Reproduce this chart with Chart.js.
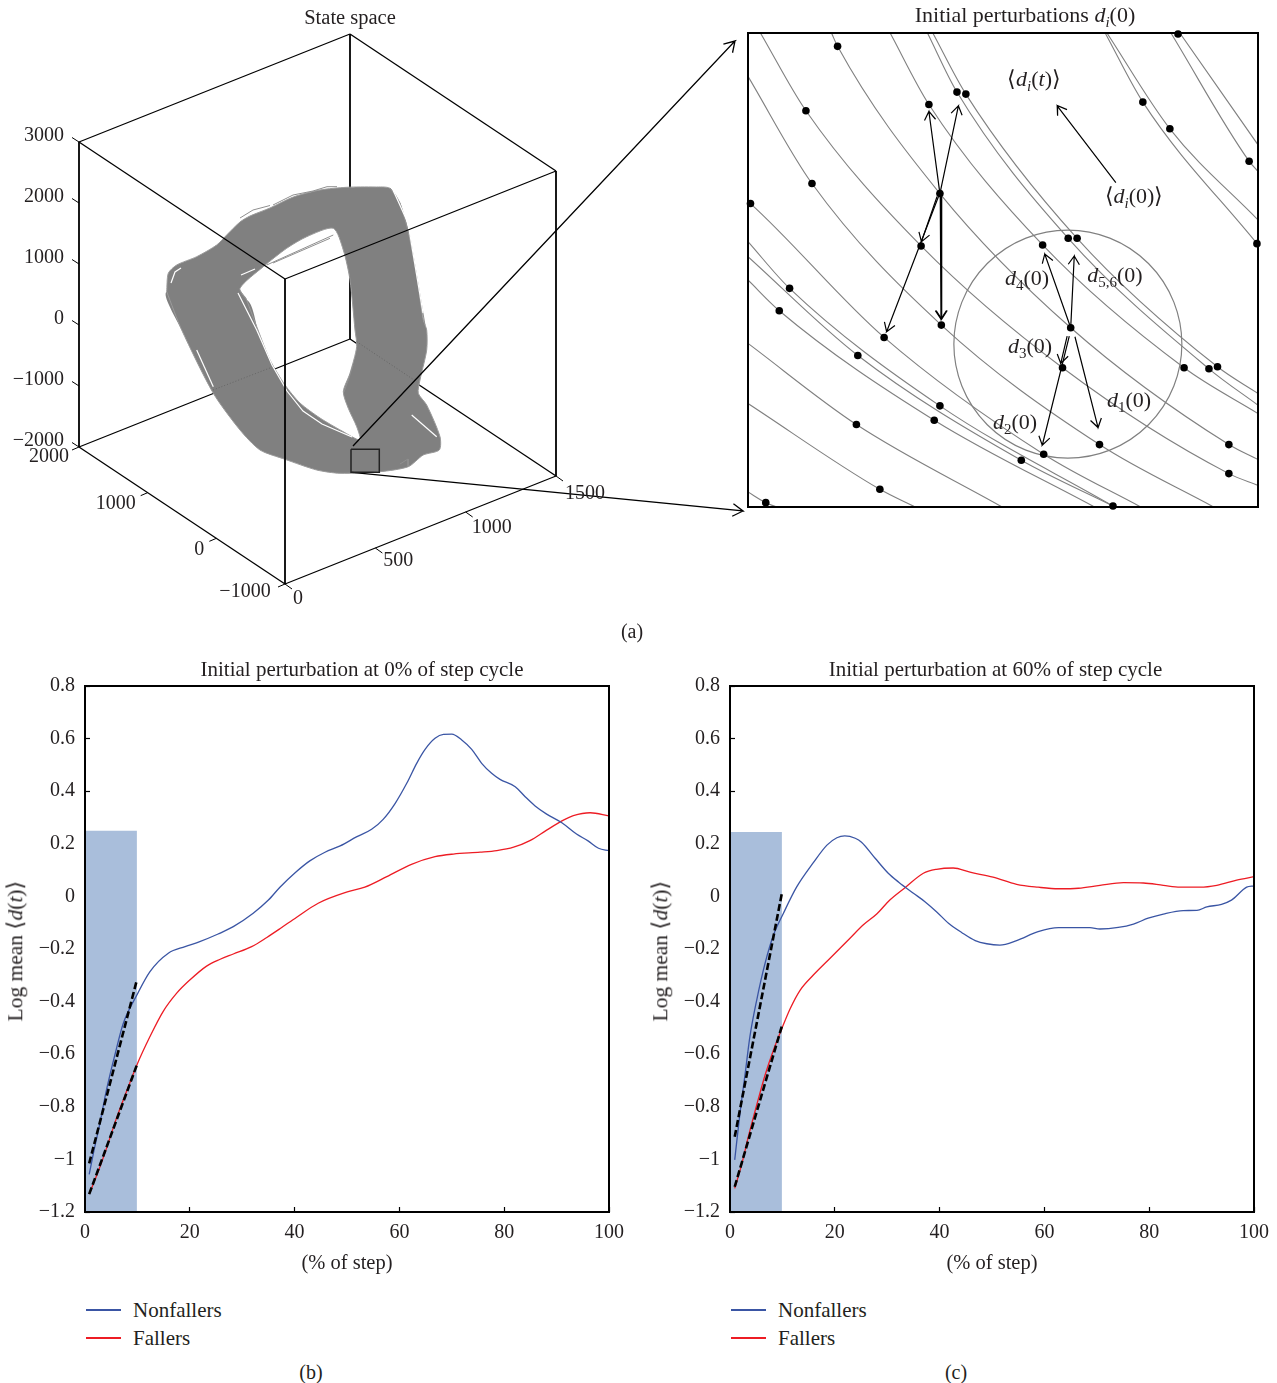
<!DOCTYPE html>
<html>
<head>
<meta charset="utf-8">
<title>State space and log mean divergence</title>
<script src="https://cdn.jsdelivr.net/npm/chart.js@4/dist/chart.umd.min.js"></script>
<style>
  html, body { margin: 0; padding: 0; background: #fff; }
  #page { position: relative; width: 1277px; height: 1383px; overflow: hidden; font-family: "Liberation Serif", serif; color: #231f20; }
  #page canvas { position: absolute; }
  .lbl { position: absolute; white-space: nowrap; font-size: 20px; line-height: 1; transform: translate(-50%, -50%); }
  .math { font-size: 22px; }
  .lbl sub { font-size: 0.68em; line-height: 0; }
  .rot { font-size: 21.5px; transform: translate(-50%, -50%) rotate(-90deg); }
  .legend { position: absolute; font-size: 21px; }
  .legend div { display: flex; align-items: center; height: 28px; }
  .legend span { display: inline-block; width: 35px; height: 2px; margin-right: 12px; }
</style>
</head>
<body>
<div id="page">
  <canvas id="chartSpace" width="745" height="640" style="left:0;top:0"></canvas>
  <canvas id="chartZoom" width="532" height="520" style="left:745px;top:0"></canvas>
  <canvas id="chartB" width="640" height="640" style="left:0;top:650px"></canvas>
  <canvas id="chartC" width="627" height="640" style="left:650px;top:650px"></canvas>

  <div class="lbl math" style="left:1025px;top:15px">Initial perturbations <i>d<sub>i</sub></i>(0)</div>
  <div class="lbl math" style="left:1034px;top:79px">⟨<i>d<sub>i</sub></i>(<i>t</i>)⟩</div>
  <div class="lbl math" style="left:1134px;top:196px">⟨<i>d<sub>i</sub></i>(0)⟩</div>
  <div class="lbl math" style="left:1027px;top:278px"><i>d</i><sub>4</sub>(0)</div>
  <div class="lbl math" style="left:1115px;top:275px"><i>d</i><sub>5,6</sub>(0)</div>
  <div class="lbl math" style="left:1030px;top:346px"><i>d</i><sub>3</sub>(0)</div>
  <div class="lbl math" style="left:1129px;top:400px"><i>d</i><sub>1</sub>(0)</div>
  <div class="lbl math" style="left:1015px;top:422px"><i>d</i><sub>2</sub>(0)</div>

  <div class="lbl rot" style="left:16px;top:951px">Log mean ⟨<i>d</i>(<i>t</i>)⟩</div>
  <div class="lbl rot" style="left:661px;top:951px">Log mean ⟨<i>d</i>(<i>t</i>)⟩</div>

  <div class="legend" id="legendB" style="left:86px;top:1296px"></div>
  <div class="legend" id="legendC" style="left:731px;top:1296px"></div>

  <div class="lbl" style="left:632px;top:631px">(a)</div>
  <div class="lbl" style="left:311px;top:1372px">(b)</div>
  <div class="lbl" style="left:956px;top:1372px">(c)</div>
</div>

<script>
// ---- panel (a): axis ranges and tick labels of the 3D box
const xRange = [0, 1500];
const yRange = [-1000, 2000];
const zRange = [-2000, 3000];
const xTickVals = [0, 500, 1000, 1500];
const xTickText = ["0", "500", "1000", "1500"];
const yTickVals = [2000, 1000, 0, -1000];
const yTickText = ["2000", "1000", "0", "−1000"];
const zTickVals = [3000, 2000, 1000, 0, -1000, -2000];
const zTickText = ["3000", "2000", "1000", "0", "−1000", "−2000"];

// outline of the grey trajectory band, read in projected units of the panel
const bandOuterX = [166.7, 168.3, 176.7, 196.7, 216.7, 226.7, 240, 250, 270, 293.3, 320, 346.7, 375, 390, 400, 408.3, 416.7, 423.3, 426.7, 426.7, 420, 418.3, 426.7, 440, 439.3, 423.3, 408.3, 380, 340, 316.7, 285, 260, 240, 213.3, 181.7];
const bandOuterY = [291.7, 273.3, 265, 256.7, 245, 235, 222, 216, 208, 197, 190, 187.3, 187, 188.3, 203.3, 231.7, 276.7, 320, 330, 350, 380, 393.3, 405, 436.7, 450, 455, 466.7, 471.7, 473.3, 470, 459.3, 450, 430, 393.3, 330];
const bandInnerX = [240, 263.3, 286.7, 306.7, 333.3, 343.3, 350, 355, 356.7, 350, 343.3, 348.3, 356.7, 360, 342, 320, 300, 285, 270, 258, 246.7];
const bandInnerY = [288.3, 266.7, 248.3, 236.7, 228.3, 250, 280, 330, 346.7, 373.3, 391.7, 408.3, 426.7, 440, 431, 418, 403, 385, 360, 330, 300];
// white gaps and loose grey strands of the band
const bandGaps = [
  [[238, 293], [256.7, 330], [272, 365], [287, 391], [303, 411], [322, 424], [352, 437]],
  [[196.7, 350], [213.3, 386.7]],
  [[411.7, 415], [436.7, 436.7]],
  [[393, 190], [408, 223], [423, 313]],
  [[171, 283], [175, 272], [181, 268]],
  [[241, 275], [255, 269]]
];
const bandStrands = [
  [[266.7, 265], [333.3, 235]],
  [[273, 263], [330, 238.3]],
  [[240, 218], [253, 210], [270, 205.5]],
  [[273, 205], [293, 195], [313, 191], [327, 186.7], [337, 186.7]],
  [[390, 188], [400, 203], [410, 237], [425, 325]],
  [[344, 392], [349, 378], [353, 365]],
  [[400, 464], [408, 459], [408, 466]]
];
const bandDotted = [
  [[213, 390], [271.7, 367.3]],
  [[356.7, 341.7], [416.7, 381.7]]
];
const zoomBoxX = [351, 379.3];
const zoomBoxY = [449.3, 472.3];
const zoomLineUp = [[353, 446], [735, 41]];
const zoomLineDown = [[352, 472.3], [743, 511]];

// ---- zoomed panel: trajectories, dots and arrows, in reading units of the panel
const zoomLimitsX = [80, 1515];
const zoomLimitsY = [100, 1520];
const zoomTracks = [
  [[115, 100], [243, 333], [567, 738], [965, 1103], [1433, 1420], [1515, 1455]],
  [[315, 100], [332, 140], [620, 581], [988, 983], [1433, 1333], [1515, 1378]],
  [[480, 100], [589, 314], [909, 735], [1307, 1103], [1515, 1240]],
  [[585, 100], [668, 277], [981, 715], [1377, 1106], [1515, 1215]],
  [[600, 100], [693, 283], [1006, 715], [1401, 1100], [1515, 1180]],
  [[80, 230], [260, 551], [624, 975], [1069, 1333], [1390, 1520]],
  [[80, 605], [87, 611], [463, 1012], [912, 1362], [1185, 1520]],
  [[80, 725], [197, 865], [620, 1217], [1107, 1517]],
  [[80, 770], [389, 1066], [849, 1380], [1107, 1517]],
  [[80, 840], [168, 932], [604, 1260], [1055, 1520]],
  [[80, 1030], [385, 1273], [795, 1520]],
  [[80, 1210], [451, 1467], [550, 1520]],
  [[80, 1475], [130, 1507], [160, 1520]],
  [[1085, 100], [1191, 307], [1512, 731]],
  [[1090, 100], [1267, 387], [1515, 660]],
  [[1270, 100], [1490, 484], [1515, 515]],
  [[1295, 100], [1515, 435]]
];
const zoomDotsX = [332, 1290, 243, 589, 668, 693, 1191, 1267, 1490, 260, 87, 620, 1512, 567, 909, 981, 1006, 197, 168, 463, 624, 988, 389, 965, 1307, 1377, 1401, 620, 604, 385, 1069, 1433, 1433, 912, 849, 451, 1107, 130];
const zoomDotsY = [140, 103, 333, 314, 277, 283, 307, 387, 484, 551, 611, 581, 731, 738, 735, 715, 715, 865, 932, 1012, 975, 983, 1066, 1103, 1103, 1106, 1100, 1217, 1260, 1273, 1333, 1333, 1420, 1362, 1380, 1467, 1517, 1507];
const zoomArrows = [
  [[620, 581], [589, 335]],
  [[620, 581], [672, 318]],
  [[612, 590], [568, 725]],
  [[621, 590], [623, 957]],
  [[624, 590], [625, 957]],
  [[616, 590], [470, 995]],
  [[988, 983], [915, 762]],
  [[988, 983], [998, 768]],
  [[978, 1008], [960, 1090]],
  [[984, 1008], [908, 1335]],
  [[1000, 1010], [1065, 1282]],
  [[1115, 548], [950, 318]]
];
const zoomCircle = [980, 1032];

// ---- panels (b) and (c): log mean divergence against % of step
const stepTicks = [0, 20, 40, 60, 80, 100];
const logTickLabels = ["−1.2", "−1", "−0.8", "−0.6", "−0.4", "−0.2", "0", "0.2", "0.4", "0.6", "0.8"];

const bNonX = [0.8, 1.6, 2.9, 4.1, 5.7, 7.3, 9.9, 12.4, 15.9, 19.1, 21.9, 25.4, 28.3, 32.1, 35, 37.2, 40.1, 42.9, 45.8, 48.7, 51.9, 54.7, 56.9, 59.2, 61.4, 63.3, 64.9, 66.8, 68.4, 70, 71.9, 73.8, 75.7, 77.6, 79.2, 82.1, 84, 85.9, 88.1, 91, 93.8, 96, 98, 100];
const bNonY = [-1.057, -0.977, -0.857, -0.736, -0.603, -0.483, -0.375, -0.286, -0.216, -0.191, -0.172, -0.143, -0.115, -0.064, -0.014, 0.035, 0.09, 0.135, 0.168, 0.192, 0.227, 0.255, 0.293, 0.354, 0.43, 0.506, 0.559, 0.601, 0.616, 0.617, 0.595, 0.559, 0.506, 0.468, 0.445, 0.417, 0.379, 0.344, 0.313, 0.28, 0.237, 0.211, 0.183, 0.174];
const bFallX = [0.8, 2.5, 4.1, 6, 7.9, 9.9, 12.4, 14.9, 17.5, 20, 23.2, 25.8, 28.3, 31.8, 34.7, 37.2, 40.4, 44.5, 49.9, 53.4, 57.6, 62.3, 66.8, 70.3, 75.4, 78.6, 81.8, 84.9, 88.1, 91.3, 93.2, 96.4, 100];
const bFallY = [-1.132, -1.047, -0.958, -0.844, -0.743, -0.641, -0.533, -0.438, -0.368, -0.318, -0.265, -0.239, -0.219, -0.191, -0.156, -0.123, -0.079, -0.026, 0.016, 0.035, 0.075, 0.122, 0.151, 0.161, 0.168, 0.174, 0.187, 0.212, 0.252, 0.29, 0.307, 0.318, 0.306];
const bFitNon = [[0.8, -1.015], [9.9, -0.318]];
const bFitFall = [[0.8, -1.132], [9.9, -0.641]];
const bShade = [[0, 0.25], [9.9, 0.25]];

const cNonX = [0.9, 1.9, 2.9, 3.8, 5.1, 6.7, 8.3, 10.2, 12.7, 15.9, 18.5, 20.4, 21.9, 23.9, 25.1, 27.7, 30.2, 32.2, 35, 37.2, 39.4, 41.7, 44.2, 46.8, 49, 51.5, 54.7, 58.8, 62.7, 68.7, 70.6, 74.1, 77, 79.8, 82.7, 86.5, 89.1, 91, 93.8, 95.7, 98.6, 100];
const cNonY = [-1.002, -0.825, -0.673, -0.533, -0.394, -0.254, -0.147, -0.064, 0.035, 0.128, 0.195, 0.223, 0.23, 0.221, 0.206, 0.145, 0.088, 0.054, 0.012, -0.02, -0.058, -0.102, -0.137, -0.168, -0.18, -0.185, -0.168, -0.134, -0.119, -0.119, -0.124, -0.118, -0.105, -0.083, -0.067, -0.054, -0.053, -0.04, -0.03, -0.014, 0.035, 0.04];
const cFallX = [0.9, 2.2, 3.5, 5.1, 6.7, 8.3, 9.9, 11.5, 13.4, 15.9, 19.1, 22.9, 25.4, 28, 30.5, 33.4, 36.9, 39.4, 42.6, 45.8, 50.2, 54.7, 58.8, 62.7, 66.5, 70.6, 75.1, 78.9, 82.7, 85.9, 89.7, 92.9, 96.7, 100];
const cFallY = [-1.11, -1.021, -0.914, -0.793, -0.679, -0.584, -0.502, -0.426, -0.356, -0.299, -0.235, -0.159, -0.109, -0.067, -0.014, 0.033, 0.088, 0.103, 0.108, 0.092, 0.073, 0.046, 0.035, 0.029, 0.031, 0.042, 0.052, 0.051, 0.042, 0.035, 0.035, 0.042, 0.062, 0.075];
const cFitNon = [[0.9, -0.914], [9.9, 0.012]];
const cFitFall = [[0.9, -1.104], [9.9, -0.493]];
const cShade = [[0, 0.245], [9.9, 0.245]];

const FONT = "'Liberation Serif', serif";
const INK = "#231f20";
const GREY = "#808080";
const BLUE = "#3a55a4";
const RED = "#ed1c24";

// 3D axis values to the projected units of the left panel
function project(x, y, z) {
  const u = (x - xRange[0]) / (xRange[1] - xRange[0]);
  const v = (y - yRange[0]) / (yRange[1] - yRange[0]);
  const w = (z - zRange[0]) / (zRange[1] - zRange[0]);
  return { x: 285 + u * 271 - v * 206, y: 584 - u * 108 - v * 137 - w * 305 };
}

function pairs(list) {
  return list.map(p => ({ x: p[0], y: p[1] }));
}

function zip(xs, ys) {
  return xs.map((x, i) => ({ x: x, y: ys[i] }));
}

// shaft plus two open barbs
function arrow(from, to, size) {
  const a = Math.atan2(to[1] - from[1], to[0] - from[0]);
  const barb = d => ({ x: to[0] - size * Math.cos(a + d), y: to[1] - size * Math.sin(a + d) });
  const tip = { x: to[0], y: to[1] };
  return [{ x: from[0], y: from[1] }, tip, barb(0.55), tip, barb(-0.55)];
}

function lineSet(data, color, width, order, extra) {
  return Object.assign({
    data: data,
    showLine: true,
    borderColor: color,
    borderWidth: width,
    pointRadius: 0,
    tension: 0,
    fill: false,
    order: order
  }, extra || {});
}

// frame around the plot
const framePlugin = {
  id: "frame",
  afterDraw(chart) {
    const a = chart.chartArea, ctx = chart.ctx;
    ctx.save();
    ctx.strokeStyle = "#000";
    ctx.lineWidth = 2;
    ctx.strokeRect(a.left, a.top, a.right - a.left, a.bottom - a.top);
    ctx.restore();
  }
};

// titles are not centred on the plots in the original
function titleShift(dx) {
  return {
    id: "titleShift",
    afterLayout(chart) {
      chart.titleBlock.left += dx;
      chart.titleBlock.right += dx;
    }
  };
}

// ---- panel (a)
function boxEdge(a, b) {
  return [project(a[0], a[1], a[2]), project(b[0], b[1], b[2])];
}

function buildSpaceChart() {
  const [x0, x1] = xRange, [y0, y1] = yRange, [z0, z1] = zRange;
  const datasets = [];
  const edge = (a, b, w, order) => datasets.push(lineSet(boxEdge(a, b), "#000", w, order));

  // back edges sit behind the band
  edge([x1, y1, z0], [x1, y1, z1], 1.8, 10);
  edge([x1, y1, z0], [x0, y1, z0], 1.3, 10);
  edge([x1, y1, z0], [x1, y0, z0], 1.3, 10);

  // band as one closed shape with the hole cut through a seam
  const outer = zip(bandOuterX, bandOuterY);
  const inner = zip(bandInnerX, bandInnerY).reverse();
  const band = outer.concat([outer[0]], inner, [inner[0], outer[0]]);
  datasets.push(lineSet(band, GREY, 0, 9, { fill: "shape", backgroundColor: GREY, borderColor: GREY, tension: 0.25 }));
  datasets.push(lineSet(outer.concat([outer[0]]), "#9a9a9a", 1, 8, { tension: 0.25 }));
  datasets.push(lineSet(inner.concat([inner[0]]), "#9a9a9a", 1, 8, { tension: 0.25 }));
  bandGaps.forEach(g => datasets.push(lineSet(pairs(g), "#fff", 1.2, 7)));
  bandStrands.forEach(g => datasets.push(lineSet(pairs(g), "#8f8f8f", 1, 7)));
  bandDotted.forEach(g => datasets.push(lineSet(pairs(g), "#666", 1, 7, { borderDash: [1, 2] })));

  // front and outer edges
  edge([x1, y0, z1], [x0, y0, z1], 1.3, 5);
  edge([x0, y1, z1], [x0, y0, z1], 1.3, 5);
  edge([x0, y1, z1], [x1, y1, z1], 1.3, 5);
  edge([x1, y1, z1], [x1, y0, z1], 1.3, 5);
  edge([x0, y0, z0], [x0, y0, z1], 1.8, 5);
  edge([x0, y1, z0], [x0, y1, z1], 1.8, 5);
  edge([x1, y0, z0], [x1, y0, z1], 1.8, 5);
  edge([x0, y0, z0], [x0, y1, z0], 1.3, 5);
  edge([x0, y0, z0], [x1, y0, z0], 1.3, 5);

  // tick marks along the three labelled edges
  const tick = (p, dx, dy) => datasets.push(lineSet([p, { x: p.x + dx, y: p.y + dy }], "#000", 1, 5));
  xTickVals.forEach(v => tick(project(v, y0, z0), 7, 5));
  yTickVals.forEach(v => tick(project(x0, v, z0), -7, 3));
  zTickVals.forEach(v => tick(project(x0, y1, v), -7, -4.5));

  // small square and the two leader arrows
  const zx = zoomBoxX, zy = zoomBoxY;
  datasets.push(lineSet(pairs([[zx[0], zy[0]], [zx[1], zy[0]], [zx[1], zy[1]], [zx[0], zy[1]], [zx[0], zy[0]]]), "#222", 1.5, 4));
  datasets.push(lineSet(arrow(zoomLineUp[0], zoomLineUp[1], 12), "#000", 1.3, 4));
  datasets.push(lineSet(arrow(zoomLineDown[0], zoomLineDown[1], 12), "#000", 1.3, 4));

  // label offsets from the tick, edge by edge
  const yLabelDx = [-30, -32, -17, -40], yLabelDy = [10, 11, 11, 8];
  const xLabelDx = [13, 23, 26, 29], xLabelDy = [14.5, 13, 15.5, 18];

  const tickLabels = {
    id: "tickLabels",
    afterDraw(chart) {
      const ctx = chart.ctx, sx = chart.scales.x, sy = chart.scales.y;
      ctx.save();
      ctx.font = "20px " + FONT;
      ctx.fillStyle = INK;
      ctx.textBaseline = "middle";
      const put = (text, p, dx, dy, align) => {
        ctx.textAlign = align;
        ctx.fillText(text, sx.getPixelForValue(p.x + dx), sy.getPixelForValue(p.y + dy));
      };
      zTickVals.forEach((v, i) => put(zTickText[i], project(x0, y1, v), -15, -6, "right"));
      yTickVals.forEach((v, i) => put(yTickText[i], project(x0, v, z0), yLabelDx[i], yLabelDy[i], "center"));
      xTickVals.forEach((v, i) => put(xTickText[i], project(v, y0, z0), xLabelDx[i], xLabelDy[i], "center"));
      ctx.restore();
    }
  };

  new Chart(document.getElementById("chartSpace"), {
    type: "scatter",
    data: { datasets: datasets },
    plugins: [tickLabels, titleShift(-22.5)],
    options: {
      responsive: false,
      animation: false,
      layout: { padding: 0, autoPadding: false },
      scales: {
        x: { display: false, min: 0, max: 745 },
        y: { display: false, min: 31, max: 640, reverse: true }
      },
      plugins: {
        legend: { display: false },
        tooltip: { enabled: false },
        title: {
          display: true,
          text: "State space",
          fullSize: false,
          color: INK,
          font: { family: FONT, size: 20.5, weight: "normal", lineHeight: 1.2 },
          padding: { top: 6.4, bottom: 0 }
        }
      }
    }
  });
}

// ---- zoomed panel
function buildZoomChart() {
  const datasets = [];
  datasets.push({
    data: zip(zoomDotsX, zoomDotsY),
    showLine: false,
    pointRadius: 3.8,
    pointBackgroundColor: "#000",
    pointBorderWidth: 0,
    clip: false,
    order: 1
  });
  zoomArrows.forEach(a => datasets.push(lineSet(arrow(a[0], a[1], 30), "#000", 1.2, 2)));
  datasets.push({
    data: [{ x: zoomCircle[0], y: zoomCircle[1] }],
    showLine: false,
    pointRadius: 114,
    pointBackgroundColor: "transparent",
    pointBorderColor: GREY,
    pointBorderWidth: 1.2,
    order: 3
  });
  zoomTracks.forEach(t => datasets.push(lineSet(pairs(t), GREY, 1.1, 4, { cubicInterpolationMode: "monotone" })));

  new Chart(document.getElementById("chartZoom"), {
    type: "scatter",
    data: { datasets: datasets },
    plugins: [framePlugin],
    options: {
      responsive: false,
      animation: false,
      layout: { autoPadding: false, padding: { left: 3, right: 19, top: 33, bottom: 13 } },
      scales: {
        x: { display: false, min: zoomLimitsX[0], max: zoomLimitsX[1] },
        y: { display: false, min: zoomLimitsY[0], max: zoomLimitsY[1], reverse: true }
      },
      plugins: { legend: { display: false }, tooltip: { enabled: false } }
    }
  });
}

// ---- panels (b) and (c)
function buildStepChart(id, legendId, title, leftWidth, rightPad, shift, series) {
  const datasets = [
    lineSet(zip(series.nonX, series.nonY), BLUE, 1.3, 3, { label: "Nonfallers", cubicInterpolationMode: "monotone" }),
    lineSet(zip(series.fallX, series.fallY), RED, 1.3, 3, { label: "Fallers", cubicInterpolationMode: "monotone" }),
    lineSet(pairs(series.fitNon), "#000", 2.6, 2, { borderDash: [7, 3] }),
    lineSet(pairs(series.fitFall), "#000", 2.6, 2, { borderDash: [7, 3] }),
    lineSet(pairs(series.shade), "#a9bedb", 0, 5, { fill: "start", backgroundColor: "#a9bedb" })
  ];

  new Chart(document.getElementById(id), {
    type: "scatter",
    data: { datasets: datasets },
    plugins: [framePlugin, titleShift(shift)],
    options: {
      responsive: false,
      animation: false,
      layout: { autoPadding: false, padding: { right: rightPad } },
      scales: {
        x: {
          type: "linear",
          min: 0,
          max: 100,
          afterFit: s => { s.height = 78; s.paddingLeft = 0; s.paddingRight = 0; },
          afterBuildTicks: s => { s.ticks = stepTicks.map(v => ({ value: v })); },
          border: { display: false },
          grid: { drawOnChartArea: false, tickLength: -5, tickWidth: 1.2, tickColor: "#000" },
          ticks: { color: INK, padding: 14, maxRotation: 0, autoSkip: false, font: { family: FONT, size: 20 } },
          title: {
            display: true,
            text: "(% of step)",
            color: INK,
            font: { family: FONT, size: 20.5 },
            padding: { top: 0, bottom: 14 }
          }
        },
        y: {
          min: -1.2,
          max: 0.8,
          afterFit: s => { s.width = leftWidth; s.paddingTop = 0; s.paddingBottom = 0; },
          afterBuildTicks: s => { s.ticks = logTickLabels.map((t, i) => ({ value: -1.2 + i * 0.2 })); },
          border: { display: false },
          grid: { drawOnChartArea: false, tickLength: -5, tickWidth: 1.2, tickColor: "#000" },
          ticks: {
            color: INK,
            padding: 15,
            autoSkip: false,
            font: { family: FONT, size: 20 },
            callback: (v, i) => logTickLabels[i]
          }
        }
      },
      plugins: {
        legend: { display: false },
        tooltip: { enabled: false },
        title: {
          display: true,
          text: title,
          fullSize: false,
          color: INK,
          font: { family: FONT, size: 21, weight: "normal", lineHeight: 1.2 },
          padding: { top: 8, bottom: 2.8 }
        }
      }
    }
  });

  // legend stacked under the axis title, built from the labelled series
  const box = document.getElementById(legendId);
  datasets.filter(d => d.label).forEach(d => {
    const row = document.createElement("div");
    const swatch = document.createElement("span");
    swatch.style.background = d.borderColor;
    row.appendChild(swatch);
    row.appendChild(document.createTextNode(d.label));
    box.appendChild(row);
  });
}

document.addEventListener("DOMContentLoaded", () => {
  buildSpaceChart();
  buildZoomChart();
  buildStepChart("chartB", "legendB", "Initial perturbation at 0% of step cycle", 85, 31, 15, {
    nonX: bNonX, nonY: bNonY, fallX: bFallX, fallY: bFallY, fitNon: bFitNon, fitFall: bFitFall, shade: bShade
  });
  buildStepChart("chartC", "legendC", "Initial perturbation at 60% of step cycle", 80, 23, 3.5, {
    nonX: cNonX, nonY: cNonY, fallX: cFallX, fallY: cFallY, fitNon: cFitNon, fitFall: cFitFall, shade: cShade
  });
});
</script>
</body>
</html>
